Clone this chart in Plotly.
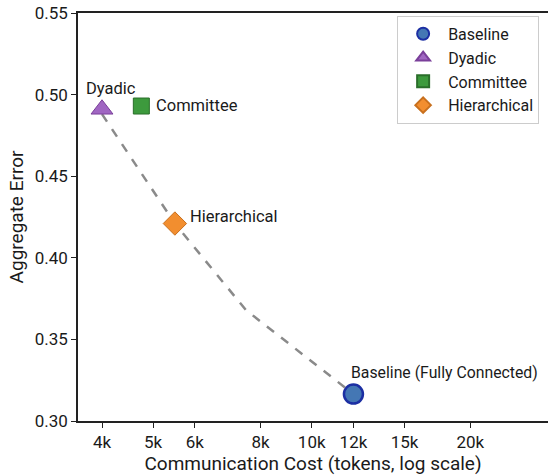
import plotly.graph_objects as go
import numpy as np

# Data
methods = ["Baseline", "Dyadic", "Committee", "Hierarchical"]
point_labels = ["Baseline (Fully Connected)", "Dyadic", "Committee", "Hierarchical"]
cost_tokens = [12000, 4000, 4750, 5500]
aggregate_error = [0.3165, 0.491, 0.493, 0.421]

frontier_cost = [4000, 5500, 7500, 12000]
frontier_error = [0.488, 0.421, 0.368, 0.3165]

x_tickvals = [4000, 5000, 6000, 8000, 10000, 12000, 15000, 20000]
x_ticktext = ["4k", "5k", "6k", "8k", "10k", "12k", "15k", "20k"]
y_tickvals = [0.30, 0.35, 0.40, 0.45, 0.50, 0.55]

styles = {
    "Baseline": dict(symbol="circle", color="#4477b4", line="#1c2fa3", size=19,
                     anchor="left", dx=-4, dy=22, fs=15.8),
    "Dyadic": dict(symbol="triangle-up", color="#a066c2", line="#7a3f9a", size=19,
                   anchor="center", dx=9, dy=21, fs=16.5),
    "Committee": dict(symbol="square", color="#3d9a3d", line="#2a6e2a", size=16,
                      anchor="left", dx=13, dy=1, fs=16.5),
    "Hierarchical": dict(symbol="diamond", color="#f28e2f", line="#c8701e", size=18,
                         anchor="left", dx=13, dy=7, fs=16.5),
}

fig = go.Figure()

fig.add_trace(go.Scatter(
    x=frontier_cost, y=frontier_error, mode="lines",
    line=dict(color="#8a8a8a", width=2.5, dash="dash"),
    showlegend=False, hoverinfo="skip",
))

for m, lab, cx, ey in zip(methods, point_labels, cost_tokens, aggregate_error):
    s = styles[m]
    fig.add_trace(go.Scatter(
        x=[cx], y=[ey], mode="markers", name=m,
        marker=dict(symbol=s["symbol"], color=s["color"], size=s["size"],
                    line=dict(color=s["line"], width=2.5 if m == "Baseline" else 1)),
    ))
    fig.add_annotation(
        x=np.log10(cx), y=ey, text=lab, showarrow=False,
        xanchor=s["anchor"], yanchor="middle", xshift=s["dx"], yshift=s["dy"],
        font=dict(size=s["fs"], color="#1a1a1a"),
    )

x0 = np.log10(4000) - 24 / 527
fig.update_layout(
    width=548, height=475,
    margin=dict(l=78, r=0, t=13, b=54, autoexpand=False),
    paper_bgcolor="white", plot_bgcolor="white",
    font=dict(family="Roboto, Arial, sans-serif", size=16, color="#1a1a1a"),
    legend=dict(x=0.679, y=0.993, xanchor="left", yanchor="top",
                bordercolor="#cccccc", borderwidth=1, bgcolor="white",
                font=dict(size=16), itemsizing="constant", itemwidth=40,
                tracegroupgap=0),
    xaxis=dict(
        type="log", range=[x0, x0 + 470 / 527], automargin=False,
        tickvals=x_tickvals, ticktext=x_ticktext,
        showline=True, linecolor="#222", linewidth=1.5, mirror=True,
        ticks="outside", ticklen=5, tickcolor="#222",
        showgrid=False, zeroline=False,
        title=dict(text="Communication Cost (tokens, log scale)", font=dict(size=19), standoff=4),
        tickfont=dict(size=17),
    ),
    yaxis=dict(
        range=[0.30, 0.55], tickvals=y_tickvals, tickformat=".2f", automargin=False,
        showline=True, linecolor="#222", linewidth=1.5, mirror=False,
        ticks="outside", ticklen=5, tickcolor="#222",
        showgrid=False, zeroline=False,
        title=dict(text="Aggregate Error", font=dict(size=19), standoff=6),
        tickfont=dict(size=17),
    ),
)

fig.write_html("out.html", config={"displayModeBar": False},
               post_script="document.body.style.margin='0';")
